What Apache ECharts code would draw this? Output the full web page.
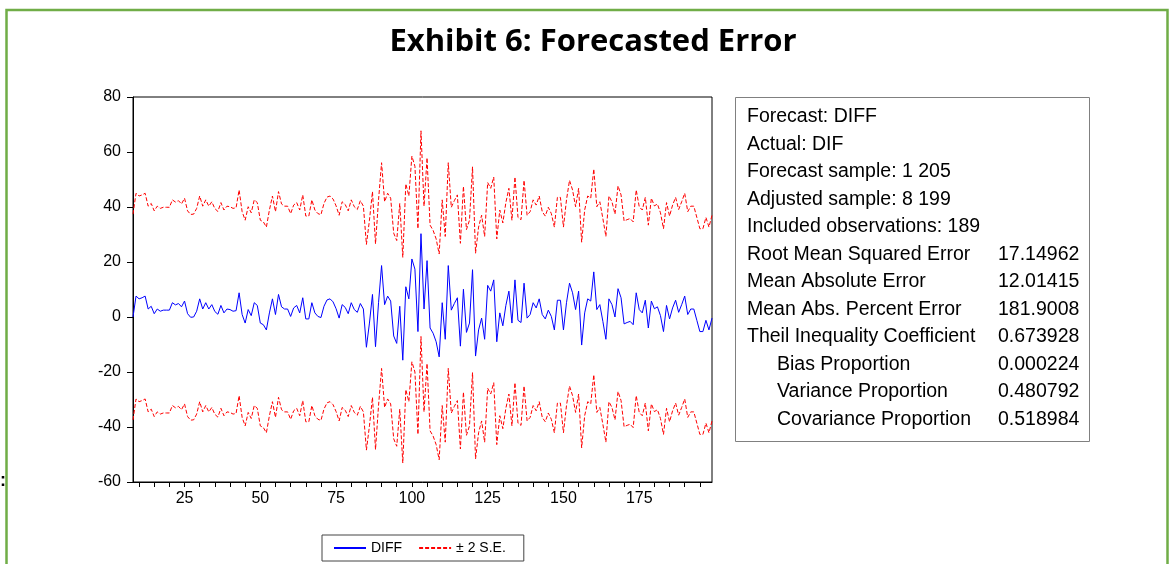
<!DOCTYPE html>
<html>
<head>
<meta charset="utf-8">
<script src="https://cdn.jsdelivr.net/npm/echarts@6/dist/echarts.min.js"></script>
<style>
  html, body { margin: 0; padding: 0; background: #fff; }
  #main { width: 1172px; height: 564px; }
</style>
</head>
<body>
<div id="main"></div>
<script>
// observation numbers of the adjusted sample (8 .. 199)
var obsStart = 8;

// DIFF forecast
var diff = [
  0, 7.6, 6.6, 7.0, 7.6, 2.9, 3.9, 1.2, 2.9, 2.1, 2.5, 2.5, 2.5, 5.2, 4.4, 4.9, 3.7, 5.8, 1.2, -0.1, 0, 2.1, 6.6, 2.9, 5.2,
  2.9, 4.5, 2.0, 1.0, 4.2, 1.5, 2.9, 2.7, 2.1, 2.3, 8.8, 0.9, -2.2, 2.7, 0.5, 5.2, 4.2, -2.2, -2.8, -4.7, 1.5, 6.6, 0.9, 8.2,
  3.7, 2.9, 2.9, 0.2, 3.3, 4.2, 1.5, 7.0, -0.7, -0.7, 5.2, 1.5, 0.2, -0.2, 3.9, 6.2, 6.6, 5.5, 3.0, -0.4, 4.5, 3.5, 1.2, 5.2, 2.7,
  1.7, 4.9, 2.9, -11, -2.2, 8.2, -10.8, 5.2, 18.7, 4.5, 7.6, 5.8, -6.9, -9.6, 3.9, -15.7, 11.0, 6.6, 21.1, 17.4, -5.3, 30.3, 2.9, 20.5, -4.0, -5.9, -9.0,
  -14.5, 5.2, -8.1, 18.7, 2.5, 4.9, 7.0, -10.6, 10.1, -5.6, -2.2, 17.2, -14.2, -4.7, -0.4, -8.1, 11.5, 9.4, 13.5, -9.0, 1.5, -3.2, 4.2,
  9.4, -2.2, 13.5, -1.2, -2.0, 12.3, -0.4, 0.9, 5.2, 3.3, 6.6, 0.9, -0.7, 2.5, 0.2, -4.7, 6.1, 6.1, -4.7, 5.2, 12.3, 8.8, 2.7, 9.4, -10.2,
  1.5, 6.6, 5.8, 16.4, 2.7, 4.5, -1.6, -8.1, 6.6, 4.5, 0, 10.3, 7.0, -2.5, -2.0, -1.6, -2.8, 8.8, 2.7, 1.5, 6.1, -4.0,
  5.8, 3.0, 3.7, 0.5, -5.3, 4.2, -0.7, 3.3, 6.1, 1.7, 4.5, 7.6, 0.9, 2.9, 2.9, -1.2, -5.3, -5.3, -1.2, -4.7, -0.4
];

// width of the +/- 2 S.E. band
var twoSE = 37.4;

var yMin = -60, yMax = 80, yStep = 20;

var statLabels = [
  'Forecast: DIFF',
  'Actual: DIF',
  'Forecast sample: 1 205',
  'Adjusted sample: 8 199',
  'Included observations: 189',
  'Root Mean Squared Error',
  'Mean Absolute Error',
  'Mean Abs. Percent Error',
  'Theil Inequality Coefficient',
  'Bias Proportion',
  'Variance Proportion',
  'Covariance Proportion'
];
var statValues = ['', '', '', '', '', '17.14962', '12.01415', '181.9008', '0.673928', '0.000224', '0.480792', '0.518984'];
var statIndent = [0, 0, 0, 0, 0, 0, 0, 0, 0, 1, 1, 1];

var obs = [];
for (var i = 0; i < diff.length; i++) obs.push(String(obsStart + i));

var upper = diff.map(function (v) { return +(v + twoSE).toFixed(2); });
var lower = diff.map(function (v) { return +(v - twoSE).toFixed(2); });

var font = '"Liberation Sans", Arial, sans-serif';

var graphics = [
  { type: 'rect', shape: { x: 6.5, y: 10, width: 1161, height: 620 },
    style: { fill: 'none', stroke: '#70AD47', lineWidth: 2.5 }, silent: true },
  { type: 'text', x: 593, y: 42,
    style: { text: 'Exhibit 6: Forecasted Error', font: 'bold 31px "Open Sans", sans-serif',
             fill: '#000', textAlign: 'center', textVerticalAlign: 'middle' } },
  { type: 'text', x: 0, y: 481,
    style: { text: ':', font: 'bold 18px ' + font, fill: '#000', textVerticalAlign: 'middle' } },
  { type: 'rect', shape: { x: 735.5, y: 97.5, width: 354, height: 344 },
    style: { fill: '#fff', stroke: '#808080', lineWidth: 1 } }
];
// stats box texts
statLabels.forEach(function (t, k) {
  var y = 117 + k * 27.5;
  graphics.push({ type: 'text', x: statIndent[k] ? 777 : 747, y: y,
    style: { text: t, font: '19.5px ' + font, fill: '#000', textVerticalAlign: 'middle' } });
  if (statValues[k]) {
    graphics.push({ type: 'text', x: 998, y: y,
      style: { text: statValues[k], font: '19.5px ' + font, fill: '#000', textVerticalAlign: 'middle' } });
  }
});

var chart = echarts.init(document.getElementById('main'));
chart.setOption({
  animation: false,
  backgroundColor: '#fff',
  grid: { left: 133, right: 460, top: 97, bottom: 82, show: true, borderColor: '#000', borderWidth: 1, backgroundColor: 'transparent' },
  legend: {
    data: ['DIFF', '± 2 S.E.'],
    left: 322, top: 535,
    padding: [6, 18, 6, 11],
    borderColor: '#444', borderWidth: 1,
    itemWidth: 32, itemHeight: 10, itemGap: 16,
    itemStyle: { opacity: 0 },
    textStyle: { fontFamily: font, fontSize: 14, color: '#000' }
  },
  xAxis: {
    type: 'category',
    data: obs,
    boundaryGap: false,
    axisLine: { show: true, onZero: false, lineStyle: { color: '#000', width: 1 } },
    axisTick: { show: true, inside: false, length: 5, lineStyle: { color: '#000' },
      interval: function (idx, val) { return (+val) % 5 === 0; } },
    axisLabel: { color: '#000', fontFamily: font, fontSize: 16, margin: 9,
      interval: function (idx, val) { return (+val) % 25 === 0; } },
    splitLine: { show: false }
  },
  yAxis: {
    type: 'value',
    min: yMin, max: yMax, interval: yStep,
    axisLine: { show: true, lineStyle: { color: '#000', width: 1 } },
    axisTick: { show: true, inside: false, length: 6, lineStyle: { color: '#000' } },
    axisLabel: { color: '#000', fontFamily: font, fontSize: 16, margin: 12 },
    splitLine: { show: false }
  },
  series: [
    { name: 'DIFF', type: 'line', data: diff, symbol: 'none', z: 3,
      lineStyle: { color: '#0000FF', width: 1 }, itemStyle: { color: '#0000FF' } },
    { name: '± 2 S.E.', type: 'line', data: upper, symbol: 'none', z: 2,
      lineStyle: { color: '#FF0000', width: 1, type: [4, 2] }, itemStyle: { color: '#FF0000' } },
    { name: '± 2 S.E.', type: 'line', data: lower, symbol: 'none', z: 2,
      lineStyle: { color: '#FF0000', width: 1, type: [4, 2] }, itemStyle: { color: '#FF0000' } }
  ],
  graphic: graphics
});
</script>
</body>
</html>
